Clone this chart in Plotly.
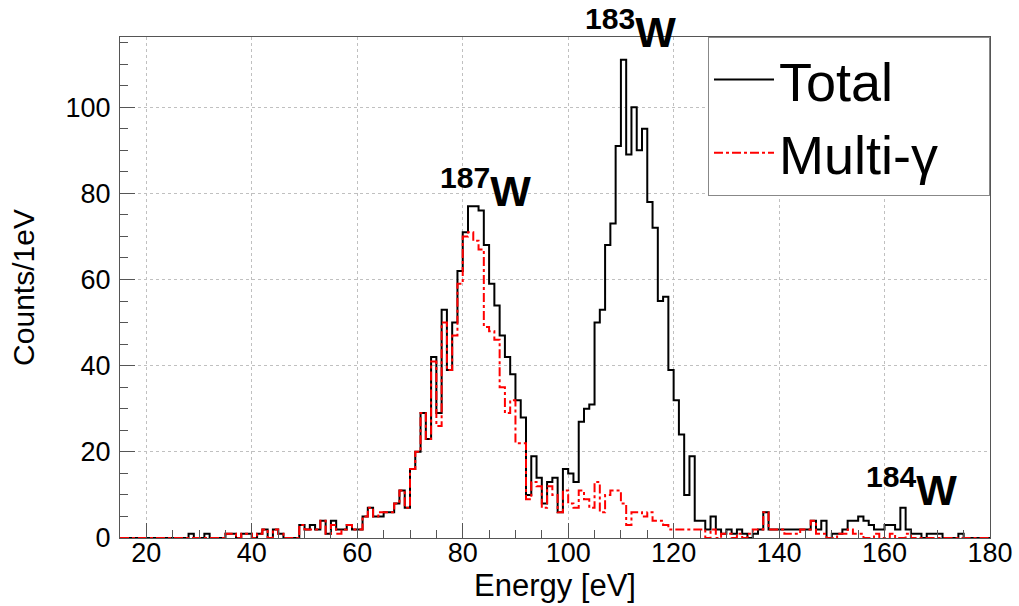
import plotly.graph_objects as go

# Histogram binning (1 eV bins from 15 to 180 eV)
bin_start = 15
bin_width = 1

# Counts per 1 eV bin, bins starting at 15, 16, ..., 179 eV
total = [
    0, 0, 0, 0, 0, 0, 0, 0, 0, 0, 0, 0, 0,          # 15-27
    1, 0, 0, 1, 0, 0, 0, 1, 1, 0, 1, 1, 0, 1, 2,    # 28-42
    0, 2, 1, 0, 0, 0, 3, 2, 3, 2, 4, 1, 4, 2, 2,    # 43-57
    3, 2, 2, 5, 7, 5, 5, 6, 6, 8, 11, 7, 16, 20,    # 58-71
    29, 23, 42, 29, 53, 39, 50, 62, 71, 77, 77,     # 72-82
    76, 68, 59, 54, 47, 42, 38, 32, 28, 10, 19,     # 83-93
    14, 8, 13, 14, 6, 16, 15, 13, 27, 30, 31,       # 94-104
    50, 53, 68, 73, 91, 111, 89, 100, 90, 95,       # 105-114
    78, 72, 55, 56, 39, 32, 24, 10, 19,             # 115-123
    4, 4, 2, 5, 2, 1, 2, 1, 2, 1, 0, 1, 2, 6,       # 124-137
    2, 2, 2, 2, 2, 2, 2, 2, 4, 2, 4, 0, 1, 1,       # 138-151
    2, 4, 4, 5, 4, 3, 2, 2, 3, 3, 2, 7, 2, 1,       # 152-165
    1, 0, 1, 1, 1, 0, 0, 0, 1, 0, 0, 0, 0, 0,       # 166-179
]

multi_gamma = [
    0, 0, 0, 0, 0, 0, 0, 0, 0, 0, 0, 0, 0,          # 15-27
    0, 0, 0, 0, 0, 0, 0, 1, 1, 0, 1, 1, 0, 1, 2,    # 28-42
    0, 2, 1, 0, 0, 0, 3, 2, 2, 2, 4, 1, 3, 1, 2,    # 43-57
    3, 2, 2, 5, 7, 5, 6, 6, 6, 8, 11, 7, 16, 20,    # 58-71
    29, 23, 41, 26, 50, 39, 47, 59, 70, 71, 69,     # 72-82
    67, 49, 48, 46, 35, 29, 32, 22, 22, 9, 13,      # 83-93
    12, 7, 12, 10, 6, 11, 8, 7, 11, 9, 7,           # 94-104
    13, 6, 10, 11, 11, 8, 3, 6, 6, 5,               # 105-114
    6, 4, 4, 3, 2, 2, 2, 2, 2,                      # 115-123
    2, 2, 0, 2, 0, 1, 1, 0, 1, 0, 1, 2, 2, 6,       # 124-137
    2, 2, 2, 1, 1, 1, 2, 2, 4, 1, 1, 0, 0, 1,       # 138-151
    1, 2, 1, 1, 0, 0, 1, 0, 0, 1, 0, 0, 1, 0,       # 152-165
    0, 0, 0, 0, 0, 0, 0, 0, 0, 0, 0, 0, 0, 0,       # 166-179
]

# Peak labels: (isotope mass, x position in eV, y position in counts)
peak_labels = [("187", 84.3, 76.7), ("183", 111.9, 113.6), ("184", 165.2, 7.3)]

edges = [bin_start + i * bin_width for i in range(len(total) + 1)]

FONT = "Liberation Sans, Arial, Helvetica, sans-serif"
PAD = "\u00a0" * 3

fig = go.Figure()
fig.add_trace(go.Scatter(
    x=edges, y=total + [total[-1]], mode="lines", name="Total" + PAD,
    line=dict(shape="hv", color="black", width=2),
))
fig.add_trace(go.Scatter(
    x=edges, y=multi_gamma + [multi_gamma[-1]], mode="lines", name="Multi-γ" + PAD,
    line=dict(shape="hv", color="#ff0000", width=2, dash="dashdot"),
))

for mass, xp, yp in peak_labels:
    fig.add_annotation(
        x=xp, y=yp, xref="x", yref="y", xanchor="center", yanchor="bottom",
        text=f"<b><sup>{mass}</sup>W</b>", showarrow=False, yshift=-9,
        font=dict(family=FONT, size=43, color="black"),
    )

axis_common = dict(
    showline=True, mirror=True, linecolor="#555555", linewidth=1,
    ticks="inside", ticklen=15, tickcolor="#555555",
    showgrid=True, gridcolor="#c0c0c0", griddash="dot", gridwidth=1,
    zeroline=False, automargin=False,
    tickfont=dict(family=FONT, size=27, color="black"),
    minor=dict(ticks="inside", ticklen=8, tickcolor="#555555", showgrid=False),
)

fig.update_xaxes(
    range=[15, 180], tick0=20, dtick=20, minor_dtick=5, ticklabelstandoff=-9,
    title=dict(text="Energy [eV]", font=dict(family=FONT, size=31, color="black"), standoff=4),
    **axis_common,
)
fig.update_yaxes(
    range=[0, 116.3], tick0=0, dtick=20, minor_dtick=5, ticklabelstandoff=3,
    title=dict(text="Counts/1eV", font=dict(family=FONT, size=30, color="black"), standoff=22),
    **axis_common,
)

fig.update_layout(
    width=1019, height=606,
    margin=dict(l=120, r=29, t=37, b=68),
    paper_bgcolor="white", plot_bgcolor="white",
    showlegend=True,
    legend=dict(
        x=1, y=1, xanchor="right", yanchor="top",
        bgcolor="white", bordercolor="#888888", borderwidth=1,
        font=dict(family=FONT, size=54, color="black"),
        itemwidth=60, tracegroupgap=0,
    ),
)

fig.write_html("out.html")
